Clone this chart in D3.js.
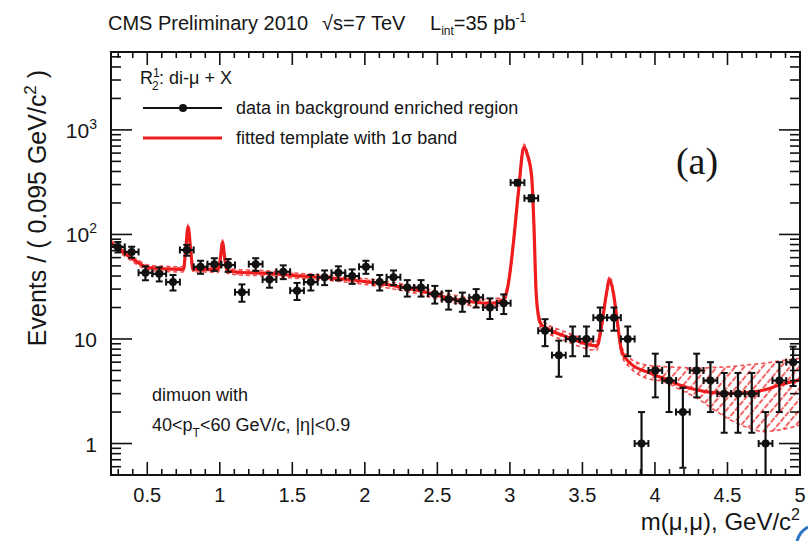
<!DOCTYPE html>
<html>
<head>
<meta charset="utf-8">
<script src="https://cdn.jsdelivr.net/npm/d3@7"></script>
<style>
  body { margin: 0; background: #fff; }
  svg { display: block; }
  text { font-family: "Liberation Sans", Arial, Helvetica, sans-serif; fill: #161616; }
</style>
</head>
<body>
<svg id="chart" width="808" height="541"></svg>
<script>
// Dimuon mass spectrum, background-enriched sample, 0.095 GeV/c^2 bins
const binCenters = [0.2975, 0.3925, 0.4875, 0.5825, 0.6775, 0.7725, 0.8675, 0.9625, 1.0575, 1.1525,
  1.2475, 1.3425, 1.4375, 1.5325, 1.6275, 1.7225, 1.8175, 1.9125, 2.0075, 2.1025,
  2.1975, 2.2925, 2.3875, 2.4825, 2.5775, 2.6725, 2.7675, 2.8625, 2.9575, 3.0525,
  3.1475, 3.2425, 3.3375, 3.4325, 3.5275, 3.6225, 3.7175, 3.8125, 3.9075, 4.0025,
  4.0975, 4.1925, 4.2875, 4.3825, 4.4775, 4.5725, 4.6675, 4.7625, 4.8575, 4.9525];
const eventCounts = [76, 68, 43, 42, 35, 71, 49, 52, 51, 28,
  52, 37, 44, 29, 35, 39, 43, 40, 49, 35,
  39, 31, 31, 27, 24, 23, 25, 20, 22, 313,
  222, 12, 7, 10, 10, 16, 16, 10, 1, 5,
  4, 2, 5, 4, 3, 3, 3, 1, 4, 6];
const binHalfWidth = 0.0475;

// Fitted template (central curve) and its 1 sigma band
const fitMass = [0.25, 0.35, 0.44, 0.50, 0.62, 0.73, 0.75, 0.765, 0.782, 0.799,
  0.815, 0.90, 0.99, 1.004, 1.019, 1.034, 1.05, 1.13, 1.30, 1.55,
  1.79, 2.07, 2.35, 2.62, 2.85, 2.92, 2.955, 2.99, 3.024, 3.058,
  3.097, 3.121, 3.15, 3.166, 3.18, 3.197, 3.214, 3.242, 3.39, 3.60,
  3.631, 3.666, 3.686, 3.714, 3.736, 3.771, 3.83, 3.94, 4.06, 4.17,
  4.29, 4.40, 4.52, 4.63, 4.75, 4.86, 5.0];
const fitValue = [83, 65, 53.4, 48.4, 46.8, 46.3, 46.5, 72, 118, 72,
  46.5, 46.3, 46, 59, 84, 59, 45, 43.5, 42.6, 40.1,
  38.1, 34.4, 29.5, 24.0, 22.0, 22.6, 23.7, 34.2, 82.5, 248,
  690, 577, 358, 119, 29.5, 16.6, 13.9, 13.0, 10.5, 8.6,
  13.1, 27.4, 37, 27.4, 16.4, 7.6, 5.86, 4.87, 4.21, 3.63,
  3.25, 3.07, 3.02, 3.07, 3.25, 3.63, 4.06];
const bandLow = [78.3, 61.3, 50.4, 45.7, 44.2, 43.7, 43.9, 67.9, 111, 67.9,
  43.9, 43.7, 43.4, 55.7, 79.2, 55.7, 42.5, 41.0, 40.2, 37.8,
  35.9, 32.2, 27.3, 22.0, 20.2, 20.7, 21.7, 31.7, 77.8, 234,
  651, 544, 338, 112, 27.3, 15.2, 12.6, 11.8, 9.5, 7.8,
  12.0, 25.4, 34.6, 25.4, 15.0, 6.9, 5.3, 4.21, 3.91, 3.3,
  2.71, 2.14, 1.68, 1.44, 1.30, 1.35, 1.50];
const bandHigh = [88, 68.9, 56.6, 51.3, 49.6, 49.1, 49.3, 76.3, 125, 76.3,
  49.3, 49.1, 48.8, 62.5, 89, 62.5, 47.7, 46.1, 45.2, 42.5,
  40.4, 36.8, 31.9, 26.2, 24.0, 24.6, 25.8, 36.9, 87.5, 263,
  731, 612, 379, 126, 31.9, 18.1, 15.3, 14.3, 11.6, 9.5,
  14.3, 29.6, 39.6, 29.6, 17.9, 8.4, 6.5, 5.64, 5.44, 5.35,
  5.25, 5.35, 5.44, 5.64, 5.86, 6.16, 6.54];

// Axis ticks
const xTickValues = [0.5, 1, 1.5, 2, 2.5, 3, 3.5, 4, 4.5, 5];
const xTickLabels = ["0.5", "1", "1.5", "2", "2.5", "3", "3.5", "4", "4.5", "5"];
const yTickValues = [1, 10, 100, 1000];
const yTickBase = ["1", "10", "10", "10"];
const yTickExp = ["", "", "2", "3"];

const RED = "#ee1c1c";
const svg = d3.select("#chart");
const frame = { left: 111, right: 800, top: 52, bottom: 475 };

const x = d3.scaleLinear().domain([0.25, 5]).range([frame.left, frame.right]);
const y = d3.scaleLog().domain([0.5, 5560]).range([frame.bottom, frame.top]);

const defs = svg.append("defs");
defs.append("clipPath").attr("id", "plotClip")
  .append("rect")
  .attr("x", frame.left).attr("y", frame.top)
  .attr("width", frame.right - frame.left).attr("height", frame.bottom - frame.top);

const hatch = defs.append("pattern").attr("id", "hatch")
  .attr("patternUnits", "userSpaceOnUse")
  .attr("width", 7).attr("height", 7)
  .attr("patternTransform", "rotate(40)");
hatch.append("line")
  .attr("x1", 1).attr("y1", 0).attr("x2", 1).attr("y2", 7)
  .attr("stroke", RED).attr("stroke-width", 1.6)
  .attr("stroke-dasharray", "3,1.5");

const plot = svg.append("g").attr("clip-path", "url(#plotClip)");

// 1 sigma band
const fitPoints = fitMass.map((m, i) => ({ m, v: fitValue[i], lo: bandLow[i], hi: bandHigh[i] }));
const band = d3.area()
  .x(d => x(d.m)).y0(d => y(d.lo)).y1(d => y(d.hi))
  .curve(d3.curveMonotoneX);
plot.append("path").datum(fitPoints)
  .attr("d", band)
  .attr("fill", "url(#hatch)")
  .attr("opacity", 0.85);

const edgeLo = d3.line().x(d => x(d.m)).y(d => y(d.lo)).curve(d3.curveMonotoneX);
const edgeHi = d3.line().x(d => x(d.m)).y(d => y(d.hi)).curve(d3.curveMonotoneX);
[edgeLo, edgeHi].forEach(gen => {
  plot.append("path").datum(fitPoints)
    .attr("d", gen)
    .attr("fill", "none")
    .attr("stroke", RED)
    .attr("stroke-width", 1.6)
    .attr("stroke-dasharray", "4,3")
    .attr("opacity", 0.75);
});

// Central fitted curve
const fitLine = d3.line().x(d => x(d.m)).y(d => y(d.v)).curve(d3.curveMonotoneX);
plot.append("path").datum(fitPoints)
  .attr("d", fitLine)
  .attr("fill", "none")
  .attr("stroke", RED)
  .attr("stroke-width", 3.2)
  .attr("stroke-linejoin", "round");

// Data points with statistical errors
const data = binCenters.map((m, i) => ({ m, n: eventCounts[i], e: Math.sqrt(eventCounts[i]) }));
const pts = plot.append("g").selectAll("g").data(data).join("g");
const ink = "#111";
const cap = 3.5;
pts.append("line")
  .attr("x1", d => x(d.m)).attr("x2", d => x(d.m))
  .attr("y1", d => y(Math.max(d.n - d.e, 0.3))).attr("y2", d => y(d.n + d.e))
  .attr("stroke", ink).attr("stroke-width", 2.2);
pts.append("line")
  .attr("x1", d => x(d.m - binHalfWidth)).attr("x2", d => x(d.m + binHalfWidth))
  .attr("y1", d => y(d.n)).attr("y2", d => y(d.n))
  .attr("stroke", ink).attr("stroke-width", 2.2);
// end caps
pts.append("line")
  .attr("x1", d => x(d.m) - cap).attr("x2", d => x(d.m) + cap)
  .attr("y1", d => y(d.n + d.e)).attr("y2", d => y(d.n + d.e))
  .attr("stroke", ink).attr("stroke-width", 2);
pts.filter(d => d.n - d.e > 0.5).append("line")
  .attr("x1", d => x(d.m) - cap).attr("x2", d => x(d.m) + cap)
  .attr("y1", d => y(d.n - d.e)).attr("y2", d => y(d.n - d.e))
  .attr("stroke", ink).attr("stroke-width", 2);
pts.append("line")
  .attr("x1", d => x(d.m - binHalfWidth)).attr("x2", d => x(d.m - binHalfWidth))
  .attr("y1", d => y(d.n) - cap).attr("y2", d => y(d.n) + cap)
  .attr("stroke", ink).attr("stroke-width", 2);
pts.append("line")
  .attr("x1", d => x(d.m + binHalfWidth)).attr("x2", d => x(d.m + binHalfWidth))
  .attr("y1", d => y(d.n) - cap).attr("y2", d => y(d.n) + cap)
  .attr("stroke", ink).attr("stroke-width", 2);
pts.append("circle")
  .attr("cx", d => x(d.m)).attr("cy", d => y(d.n)).attr("r", 4)
  .attr("fill", ink);

// Frame and ticks (mirrored on all four sides)
const axes = svg.append("g").attr("stroke", "#111").attr("fill", "none");
axes.append("rect")
  .attr("x", frame.left).attr("y", frame.top)
  .attr("width", frame.right - frame.left).attr("height", frame.bottom - frame.top)
  .attr("stroke-width", 2);

const xMinor = d3.range(3, 51).map(k => k / 10).filter(v => !xTickValues.some(t => Math.abs(t - v) < 1e-6));
const xTickLen = v => xTickValues.some(t => Math.abs(t - v) < 1e-6) ? 13 : 6;
const xAll = xTickValues.concat(xMinor);
xAll.forEach(v => {
  const px = x(v), L = xTickLen(v);
  axes.append("line").attr("x1", px).attr("x2", px).attr("y1", frame.bottom).attr("y2", frame.bottom - L).attr("stroke-width", 1.6);
  axes.append("line").attr("x1", px).attr("x2", px).attr("y1", frame.top).attr("y2", frame.top + L).attr("stroke-width", 1.6);
});

const yMinor = [];
[0.1, 1, 10, 100, 1000].forEach(dec => {
  for (let k = 2; k <= 9; k++) {
    const v = dec * k;
    if (v >= 0.5 && v <= 5560) yMinor.push(v);
  }
});
yTickValues.concat(yMinor).forEach(v => {
  const py = y(v), L = yTickValues.includes(v) ? 21 : 10;
  axes.append("line").attr("x1", frame.left).attr("x2", frame.left + L).attr("y1", py).attr("y2", py).attr("stroke-width", 1.6);
  axes.append("line").attr("x1", frame.right).attr("x2", frame.right - L).attr("y1", py).attr("y2", py).attr("stroke-width", 1.6);
});

// Tick labels
svg.append("g").selectAll("text").data(xTickValues).join("text")
  .attr("x", d => x(d)).attr("y", 502)
  .attr("text-anchor", "middle")
  .attr("font-size", 20)
  .text((d, i) => xTickLabels[i]);

const yl = svg.append("g").selectAll("text").data(yTickValues).join("text")
  .attr("x", 97).attr("y", d => y(d) + 8)
  .attr("text-anchor", "end")
  .attr("font-size", 21);
yl.append("tspan").text((d, i) => yTickBase[i]);
yl.append("tspan").attr("dy", -9).attr("font-size", 14).text((d, i) => yTickExp[i]);

// Axis titles
const xt = svg.append("text")
  .attr("x", 800).attr("y", 530)
  .attr("text-anchor", "end")
  .attr("font-size", 24);
xt.append("tspan").text("m(μ,μ), GeV/c");
xt.append("tspan").attr("dy", -10).attr("font-size", 16).text("2");

const yt = svg.append("text")
  .attr("transform", "translate(46,208) rotate(-90)")
  .attr("text-anchor", "middle")
  .attr("font-size", 25);
yt.append("tspan").text("Events / ( 0.095 GeV/c");
yt.append("tspan").attr("dy", -10).attr("font-size", 17).text("2");
yt.append("tspan").attr("dy", 10).text(" )");

// Title: three separated fields
const title = svg.append("g").attr("font-size", 20);
title.append("text").attr("x", 108).attr("y", 30).text("CMS Preliminary 2010");
title.append("text").attr("x", 322).attr("y", 30).text("√s=7 TeV");
const lumi = title.append("text").attr("x", 430).attr("y", 30);
lumi.append("tspan").text("L");
lumi.append("tspan").attr("dy", 5).attr("font-size", 12).text("int");
lumi.append("tspan").attr("dy", -5).text("=35 pb");
lumi.append("tspan").attr("dy", -8).attr("font-size", 12).text("-1");

// Legend
const lg = svg.append("g");
const lh = lg.append("text").attr("x", 140).attr("y", 84).attr("font-size", 18);
lh.append("tspan").text("R");
lh.append("tspan").attr("dy", -7).attr("font-size", 12).text("1");
lh.append("tspan").attr("x", 152).attr("dy", 13).attr("font-size", 12).text("2");
lh.append("tspan").attr("x", 159).attr("dy", -6).text(": di-μ + X");

lg.append("line").attr("x1", 143).attr("x2", 222).attr("y1", 108).attr("y2", 108)
  .attr("stroke", ink).attr("stroke-width", 2);
lg.append("circle").attr("cx", 183).attr("cy", 108).attr("r", 4).attr("fill", ink);
lg.append("text").attr("x", 236).attr("y", 114).attr("font-size", 18)
  .text("data in background enriched region");

lg.append("line").attr("x1", 143).attr("x2", 222).attr("y1", 138).attr("y2", 138)
  .attr("stroke", RED).attr("stroke-width", 3.2);
lg.append("text").attr("x", 236).attr("y", 144).attr("font-size", 18)
  .text("fitted template with 1σ band");

// Panel tag
svg.append("text").attr("x", 697).attr("y", 174)
  .attr("text-anchor", "middle")
  .style("font-family", "'Liberation Serif', 'DejaVu Serif', serif")
  .attr("font-size", 38)
  .text("(a)");

// Selection note
const note = svg.append("g").attr("font-size", 18);
note.append("text").attr("x", 152).attr("y", 401).text("dimuon with");
const n2 = note.append("text").attr("x", 152).attr("y", 431);
n2.append("tspan").text("40<p");
n2.append("tspan").attr("dy", 6).attr("font-size", 12).text("T");
n2.append("tspan").attr("dy", -6).text("<60 GeV/c, |η|<0.9");

// Corner mark at the lower right edge
svg.append("path")
  .attr("d", "M797,541 Q800,531 808,527")
  .attr("fill", "none")
  .attr("stroke", "#2a74c4")
  .attr("stroke-width", 3);
</script>
</body>
</html>
